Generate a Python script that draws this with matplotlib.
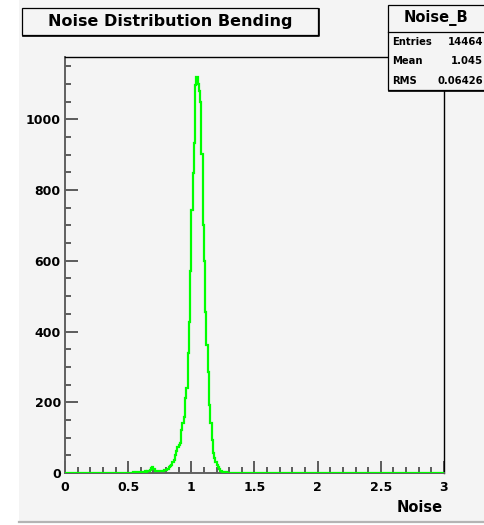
import numpy as np
import matplotlib
matplotlib.use("Agg")
import matplotlib.pyplot as plt
from matplotlib.patches import Rectangle
from matplotlib.lines import Line2D
from matplotlib.ticker import MultipleLocator, FuncFormatter

# ---------------- data ----------------
title = "Noise Distribution Bending"
hist_name = "Noise_B"
x_label = "Noise"
stats_labels = ["Entries", "Mean", "RMS"]
stats_values = ["14464", "1.045", "0.06426"]

x_min, x_max, n_bins = 0.0, 3.0, 300
first_filled_bin = 50          # bin index of x = 0.50
counts_filled = [
    1, 0, 1, 1, 2, 1, 2, 3, 2, 3,            # 0.50 - 0.59
    4, 3, 4, 5, 4, 5, 6, 9, 14, 18,          # 0.60 - 0.69
    11, 6, 5, 6, 5, 6, 6, 7, 8, 9,           # 0.70 - 0.79
    8, 12, 17, 20, 24, 31, 38, 51, 62, 74,   # 0.80 - 0.89
    80, 85, 122, 140, 158, 212, 240, 339, 427, 571,   # 0.90 - 0.99
    744, 848, 933, 1097, 1120, 1100, 1080, 1050, 902, 701,  # 1.00 - 1.09
    600, 456, 362, 286, 192, 141, 93, 57, 42, 31,     # 1.10 - 1.19
    22, 17, 10, 6, 4, 3, 3, 2, 1, 1,          # 1.20 - 1.29
]
y_max = 1176

# ---------------- figure ----------------
W, H = 485, 525
fig = plt.figure(figsize=(W / 100, H / 100), dpi=100)
fig.patch.set_facecolor("white")
BG = "#f4f4f4"

def fx(px):
    return px / W

def fy(py):
    return 1 - py / H

# canvas background
fig.add_artist(Rectangle((fx(19), fy(521)), fx(485) - fx(19), fy(0) - fy(521),
                         transform=fig.transFigure, facecolor=BG, edgecolor="none", zorder=0))
fig.add_artist(Line2D([fx(19), fx(485)], [fy(522), fy(522)], transform=fig.transFigure,
                      color="#b4b4b4", lw=1.6, zorder=1))

# axes
L, R, T, B = 65, 444, 57, 473
ax = fig.add_axes([fx(L), fy(B), fx(R) - fx(L), fy(T) - fy(B)])
ax.set_facecolor(BG)

counts = np.zeros(n_bins)
counts[first_filled_bin:first_filled_bin + len(counts_filled)] = counts_filled
edges = np.linspace(x_min, x_max, n_bins + 1)
ax.stairs(counts, edges, color="#00ff00", lw=1.6, zorder=5, baseline=None)

ax.set_xlim(x_min, x_max)
ax.set_ylim(0, y_max)

ax.xaxis.set_major_locator(MultipleLocator(0.5))
ax.xaxis.set_minor_locator(MultipleLocator(0.1))
ax.yaxis.set_major_locator(MultipleLocator(200))
ax.yaxis.set_minor_locator(MultipleLocator(50))

tick_col = "#505050"
ax.tick_params(axis="both", which="major", direction="in", length=9, width=1.3,
               color=tick_col, top=False, right=False)
ax.tick_params(axis="both", which="minor", direction="in", length=4.5, width=1.3,
               color=tick_col, top=False, right=False)
ax.tick_params(axis="x", which="major", pad=6)
ax.tick_params(axis="y", which="major", pad=3)

ax.xaxis.set_major_formatter(FuncFormatter(lambda v, p: f"{v:g}"))
ax.yaxis.set_major_formatter(FuncFormatter(lambda v, p: f"{v:g}"))
for lab in ax.get_xticklabels() + ax.get_yticklabels():
    lab.set_fontfamily("DejaVu Sans")
    lab.set_fontweight("bold")
    lab.set_fontsize(9)

for side in ["left", "bottom"]:
    ax.spines[side].set_color("#606060")
    ax.spines[side].set_linewidth(1.4)
for side in ["top", "right"]:
    ax.spines[side].set_color("black")
    ax.spines[side].set_linewidth(1.0)

fig.text(fx(443), fy(507), x_label, ha="right", va="center", fontsize=10.5,
         fontweight="bold", family="DejaVu Sans")

# boxes with ROOT-like shadow
def shadow_box(x0, y0, x1, y1):
    fig.add_artist(Rectangle((fx(x0), fy(y1)), fx(x1) - fx(x0), fy(y0) - fy(y1),
                             transform=fig.transFigure, facecolor=BG, edgecolor="black",
                             lw=0.9, zorder=10))
    fig.add_artist(Line2D([fx(x0 + 1), fx(x1 + 1), fx(x1 + 1)],
                          [fy(y1 + 1), fy(y1 + 1), fy(y0 + 1)],
                          transform=fig.transFigure, color="black", lw=1.2, zorder=11))

shadow_box(22, 8, 318, 35)
fig.text(fx(170), fy(21.5), title, ha="center", va="center", fontsize=11.5,
         fontweight="bold", family="DejaVu Sans", zorder=12)

# stats box
shadow_box(388, 5, 487, 90)
fig.add_artist(Line2D([fx(388), fx(487)], [fy(32), fy(32)], transform=fig.transFigure,
                      color="black", lw=0.9, zorder=11))
fig.text(fx(436), fy(18), hist_name, ha="center", va="center", fontsize=10.5,
         fontweight="bold", family="DejaVu Sans", zorder=12)
for i, (lab, val) in enumerate(zip(stats_labels, stats_values)):
    yy = 42 + i * 19.5
    fig.text(fx(392), fy(yy), lab, ha="left", va="center", fontsize=7.2,
             fontweight="bold", family="DejaVu Sans", zorder=12)
    fig.text(fx(483), fy(yy), val, ha="right", va="center", fontsize=7.2,
             fontweight="bold", family="DejaVu Sans", zorder=12)

fig.savefig("out.png", dpi=100, facecolor=fig.get_facecolor())
